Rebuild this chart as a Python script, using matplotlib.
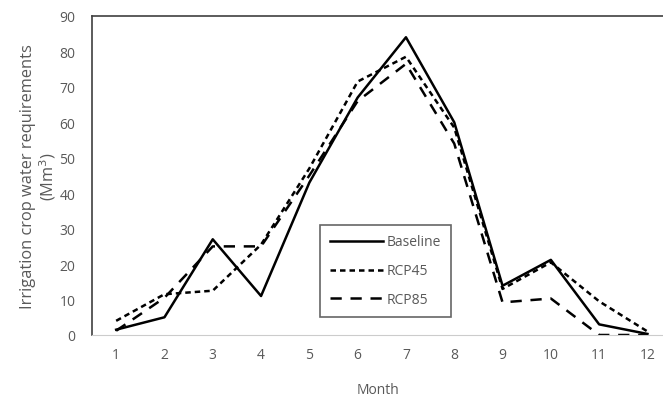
import matplotlib
matplotlib.use("Agg")
import matplotlib.pyplot as plt

months = [1, 2, 3, 4, 5, 6, 7, 8, 9, 10, 11, 12]
baseline = [1.5, 5, 27, 11, 43, 67, 84, 60, 13.9, 21.2, 3, 0.3]
rcp45 = [4, 11.5, 12.5, 25.5, 47, 71.5, 78.5, 58.5, 13, 20.5, 9.5, 1]
rcp85 = [1.2, 10.5, 25, 25, 45, 66, 76.5, 54, 9.2, 10.3, 0, 0]
y_ticks = [0, 10, 20, 30, 40, 50, 60, 70, 80, 90]

plt.rcParams['font.family'] = ['Open Sans', 'DejaVu Sans']
text_color = '#595959'

fig = plt.figure(figsize=(6.63, 4.02), dpi=100)
W, H = 663, 402
ax = fig.add_axes([92 / W, (H - 336) / H, (663 - 92) / W, (336 - 17) / H])

ax.plot(months, baseline, color='black', lw=1.8, linestyle='-', label='Baseline')
ax.plot(months, rcp45, color='black', lw=1.8, linestyle=(0, (2.2, 1.6)), label='RCP45')
ax.plot(months, rcp85, color='black', lw=1.8, linestyle=(0, (4.5, 3.5)), label='RCP85')

ax.set_xlim(0.5, 0.5 + (663 - 92) / 48.3)
ax.set_ylim(0, 90)
ax.set_xticks(months)
ax.set_yticks(y_ticks)
ax.tick_params(length=0, labelsize=10, colors=text_color)
ax.tick_params(axis='x', pad=9)
ax.tick_params(axis='y', pad=12)

ax.spines['right'].set_visible(False)
ax.spines['left'].set_color('#404040')
ax.spines['top'].set_color('#404040')
ax.spines['left'].set_linewidth(1.2)
ax.spines['top'].set_linewidth(1.2)
ax.spines['bottom'].set_color('#cccccc')
ax.spines['bottom'].set_linestyle((0, (1, 1)))
ax.spines['bottom'].set_linewidth(0.8)

ax.set_xlabel('Month', fontsize=10, color=text_color, labelpad=14)
ax.set_ylabel('Irrigation crop water requirements\n(Mm$^3$)', fontsize=11.8,
              color=text_color, linespacing=1.1)
ax.yaxis.set_label_coords(-(92 - 58) / 571, 0.5)

leg = ax.legend(loc='lower left', bbox_to_anchor=((320 - 92) / 571, (336 - 318) / 319),
                frameon=True, fancybox=False, fontsize=10, handlelength=3.8,
                handletextpad=0.3, labelspacing=1.0, borderpad=0.7,
                borderaxespad=0, labelcolor=text_color)
leg.get_frame().set_edgecolor('#404040')
leg.get_frame().set_linewidth(1.2)

fig.savefig('out.png', dpi=100)
